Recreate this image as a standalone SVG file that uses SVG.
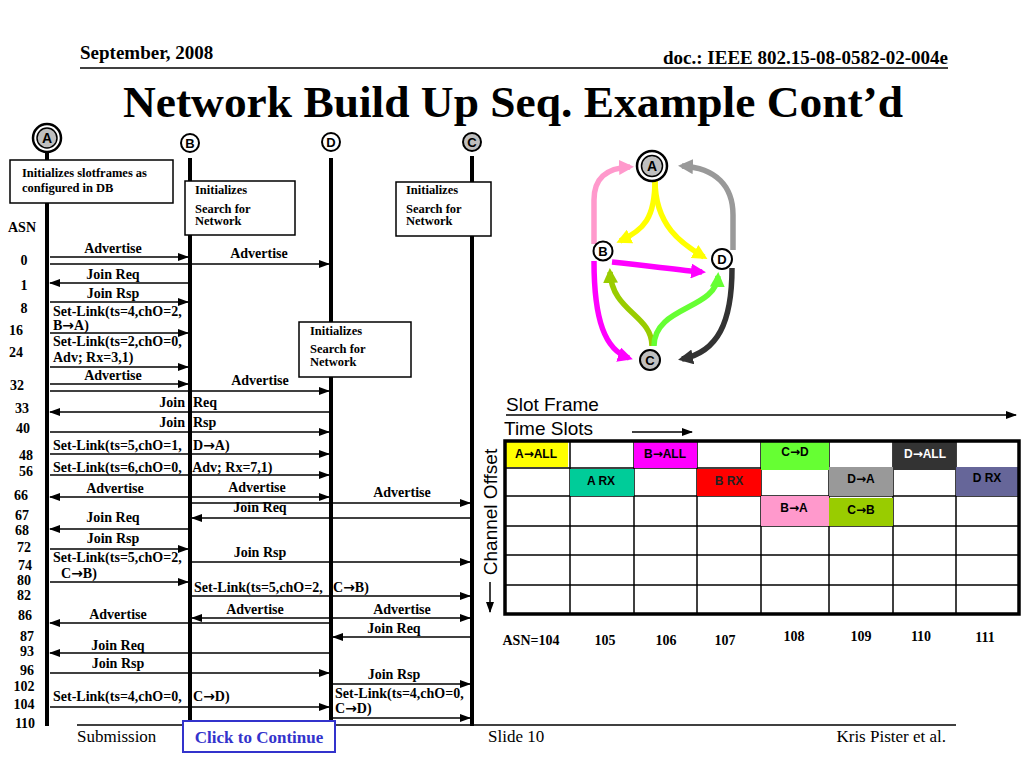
<svg xmlns="http://www.w3.org/2000/svg" width="1024" height="768" viewBox="0 0 1024 768">
<style>
.s{font-family:'Liberation Serif','Times New Roman',serif;font-weight:bold;fill:#000}
.r{font-family:'Liberation Serif','Times New Roman',serif;fill:#000}
.a{font-family:'Liberation Sans',Arial,sans-serif;fill:#000}
.ar{font-family:'DejaVu Sans',sans-serif;font-weight:bold}
.lb{font-size:14px}
.mid{text-anchor:middle}
.bx{font-size:12.5px}
.ll{stroke:#000;stroke-width:4}
.m{stroke:#000;stroke-width:1.5;fill:none;marker-end:url(#ah)}
.b2{marker-start:url(#ahs)}
.box{fill:#fff;stroke:#000;stroke-width:1.5}
.g{fill:none;stroke-width:5.5}
.cell{font-family:'Liberation Sans',Arial,sans-serif;font-weight:bold;font-size:12px;text-anchor:middle}
.grid{stroke:#000;stroke-width:1.5}
.nl{font-family:'Liberation Sans',Arial,sans-serif;font-weight:bold;text-anchor:middle;fill:#000}
</style>
<defs>
<marker id="ah" markerUnits="userSpaceOnUse" markerWidth="11" markerHeight="8" refX="10" refY="4" orient="auto"><path d="M0,0 L11,4 L0,8 z" fill="#000"/></marker>
<marker id="ahs" markerUnits="userSpaceOnUse" markerWidth="11" markerHeight="8" refX="10" refY="4" orient="auto-start-reverse"><path d="M0,0 L11,4 L0,8 z" fill="#000"/></marker>
<marker id="mpink" markerUnits="userSpaceOnUse" markerWidth="15" markerHeight="15" refX="11" refY="7.5" orient="auto"><path d="M0,0 L15,7.5 L0,15 z" fill="#FF99CC"/></marker>
<marker id="mgray" markerUnits="userSpaceOnUse" markerWidth="15" markerHeight="15" refX="11" refY="7.5" orient="auto"><path d="M0,0 L15,7.5 L0,15 z" fill="#999999"/></marker>
<marker id="myel" markerUnits="userSpaceOnUse" markerWidth="15" markerHeight="15" refX="11" refY="7.5" orient="auto"><path d="M0,0 L15,7.5 L0,15 z" fill="#FFFF00"/></marker>
<marker id="mmag" markerUnits="userSpaceOnUse" markerWidth="15" markerHeight="15" refX="11" refY="7.5" orient="auto"><path d="M0,0 L15,7.5 L0,15 z" fill="#FF00FF"/></marker>
<marker id="moli" markerUnits="userSpaceOnUse" markerWidth="15" markerHeight="15" refX="11" refY="7.5" orient="auto"><path d="M0,0 L15,7.5 L0,15 z" fill="#99CC00"/></marker>
<marker id="mgrn" markerUnits="userSpaceOnUse" markerWidth="15" markerHeight="15" refX="11" refY="7.5" orient="auto"><path d="M0,0 L15,7.5 L0,15 z" fill="#66FF33"/></marker>
<marker id="mdrk" markerUnits="userSpaceOnUse" markerWidth="15" markerHeight="15" refX="11" refY="7.5" orient="auto"><path d="M0,0 L15,7.5 L0,15 z" fill="#333333"/></marker>
<marker id="ahb" markerUnits="userSpaceOnUse" markerWidth="11" markerHeight="8" refX="10" refY="4" orient="auto"><path d="M0,0 L11,4 L0,8 z" fill="#000"/></marker>
</defs>
<rect width="1024" height="768" fill="#fff"/>

<g id="header">
<text class="s" x="80" y="59" font-size="19">September, 2008</text>
<text class="s" x="948" y="64" font-size="19" text-anchor="end">doc.: IEEE 802.15-08-0582-02-004e</text>
<line x1="80" y1="68" x2="948" y2="68" stroke="#000" stroke-width="1.5"/>
<text class="s mid" x="513" y="117" font-size="45" textLength="780" lengthAdjust="spacingAndGlyphs">Network Build Up Seq. Example Cont’d</text>
</g>

<g id="lifelines">
<line class="ll" x1="47" y1="152" x2="47" y2="726"/>
<line class="ll" x1="190" y1="158" x2="190" y2="726"/>
<line class="ll" x1="331" y1="158" x2="331" y2="726"/>
<line class="ll" x1="472" y1="156" x2="472" y2="726"/>
</g>

<g id="node-A">
<circle cx="47" cy="138" r="14" fill="#fff" stroke="#000" stroke-width="2.5"/>
<circle cx="47" cy="138" r="10" fill="#BFBFBF" stroke="#000" stroke-width="1.5"/>
<text class="nl" x="47" y="143" font-size="14">A</text>
</g>
<g id="node-B">
<circle cx="190" cy="143" r="9" fill="#fff" stroke="#000" stroke-width="2"/>
<text class="nl" x="190" y="148" font-size="13">B</text>
</g>
<g id="node-D">
<circle cx="331" cy="142" r="9" fill="#fff" stroke="#000" stroke-width="2"/>
<text class="nl" x="331" y="147" font-size="13">D</text>
</g>
<g id="node-C">
<circle cx="472" cy="142" r="9" fill="#BFBFBF" stroke="#000" stroke-width="2"/>
<text class="nl" x="472" y="147" font-size="13">C</text>
</g>

<g id="box-A">
<rect class="box" x="10" y="160" width="163" height="43"/>
<text class="s bx" x="22" y="177">Initializes slotframes as</text>
<text class="s bx" x="22" y="192">configured in DB</text>
</g>
<g id="box-B">
<rect class="box" x="185" y="181" width="110" height="54"/>
<text class="s bx" x="195" y="194">Initializes</text>
<text class="s bx" x="195" y="213">Search for</text>
<text class="s bx" x="195" y="225">Network</text>
</g>
<g id="box-C">
<rect class="box" x="396" y="182" width="95" height="54"/>
<text class="s bx" x="406" y="194">Initializes</text>
<text class="s bx" x="406" y="213">Search for</text>
<text class="s bx" x="406" y="225">Network</text>
</g>
<g id="box-D">
<rect class="box" x="299" y="322" width="112" height="55"/>
<text class="s bx" x="310" y="335">Initializes</text>
<text class="s bx" x="310" y="353">Search for</text>
<text class="s bx" x="310" y="366">Network</text>
</g>

<g id="asn" class="s lb mid">
<text x="22" y="232">ASN</text>
<text x="24" y="265">0</text>
<text x="24" y="290">1</text>
<text x="24" y="313">8</text>
<text x="16" y="335">16</text>
<text x="16" y="357">24</text>
<text x="17" y="390">32</text>
<text x="22" y="413">33</text>
<text x="23" y="433">40</text>
<text x="26" y="460">48</text>
<text x="26" y="476">56</text>
<text x="21" y="500">66</text>
<text x="22" y="520">67</text>
<text x="22" y="535">68</text>
<text x="24" y="552">72</text>
<text x="25" y="570">74</text>
<text x="24" y="585">80</text>
<text x="24" y="600">82</text>
<text x="25" y="620">86</text>
<text x="27" y="641">87</text>
<text x="27" y="656">93</text>
<text x="27" y="675">96</text>
<text x="24" y="691">102</text>
<text x="24" y="709">104</text>
<text x="25" y="728">110</text>
</g>

<g id="connectors">
<line class="m" x1="50" y1="257" x2="188" y2="257"/>
<line class="m" x1="50" y1="264" x2="329" y2="264"/>
<line class="m" x1="188" y1="283" x2="50" y2="283"/>
<line class="m" x1="50" y1="302" x2="188" y2="302"/>
<line class="m" x1="50" y1="333" x2="188" y2="333"/>
<line class="m" x1="50" y1="367" x2="188" y2="367"/>
<line class="m" x1="50" y1="384" x2="188" y2="384"/>
<line class="m" x1="50" y1="391" x2="329" y2="391"/>
<line class="m" x1="329" y1="412" x2="50" y2="412"/>
<line class="m" x1="50" y1="432" x2="329" y2="432"/>
<line class="m" x1="50" y1="454" x2="329" y2="454"/>
<line class="m" x1="50" y1="475" x2="329" y2="475"/>
<line class="m b2" x1="50" y1="497" x2="329" y2="497"/>
<line class="m" x1="192" y1="503" x2="470" y2="503"/>
<line class="m" x1="470" y1="518" x2="192" y2="518"/>
<line class="m" x1="188" y1="529" x2="50" y2="529"/>
<line class="m" x1="50" y1="549" x2="188" y2="549"/>
<line class="m" x1="192" y1="562" x2="470" y2="562"/>
<line class="m" x1="50" y1="582" x2="188" y2="582"/>
<line class="m" x1="192" y1="596" x2="470" y2="596"/>
<line class="m b2" x1="192" y1="618" x2="470" y2="618"/>
<line class="m" x1="329" y1="623" x2="50" y2="623"/>
<line class="m" x1="470" y1="637" x2="333" y2="637"/>
<line class="m" x1="329" y1="653" x2="50" y2="653"/>
<line class="m" x1="50" y1="673" x2="329" y2="673"/>
<line class="m" x1="333" y1="684" x2="470" y2="684"/>
<line class="m" x1="50" y1="707" x2="329" y2="707"/>
<line class="m" x1="333" y1="718" x2="470" y2="718"/>
</g>

<g id="labels" class="s lb">
<text class="mid" x="113" y="253">Advertise</text>
<text class="mid" x="259" y="258">Advertise</text>
<text class="mid" x="113" y="279">Join Req</text>
<text class="mid" x="113" y="298">Join Rsp</text>
<text x="53" y="316">Set-Link(ts=4,chO=2,</text>
<text x="53" y="330">B<tspan class="ar">→</tspan>A)</text>
<text x="53" y="346">Set-Link(ts=2,chO=0,</text>
<text x="53" y="362">Adv; Rx=3,1)</text>
<text class="mid" x="113" y="380">Advertise</text>
<text class="mid" x="260" y="385">Advertise</text>
<text y="407"><tspan x="185" text-anchor="end">Join</tspan><tspan x="189.5"> Req</tspan></text>
<text y="427"><tspan x="185" text-anchor="end">Join</tspan><tspan x="189.5"> Rsp</tspan></text>
<text y="450"><tspan x="53">Set-Link(ts=5,chO=1,</tspan><tspan x="189.5"> D</tspan><tspan class="ar">→</tspan><tspan>A)</tspan></text>
<text y="472"><tspan x="53">Set-Link(ts=6,chO=0,</tspan><tspan x="189.5"> Adv; Rx=7,1)</tspan></text>
<text class="mid" x="115" y="493">Advertise</text>
<text class="mid" x="257" y="492">Advertise</text>
<text class="mid" x="402" y="497">Advertise</text>
<text class="mid" x="260" y="512">Join Req</text>
<text class="mid" x="113" y="522">Join Req</text>
<text class="mid" x="113" y="543">Join Rsp</text>
<text class="mid" x="260" y="557">Join Rsp</text>
<text x="53" y="562">Set-Link(ts=5,chO=2,</text>
<text x="61" y="578">C<tspan class="ar">→</tspan>B)</text>
<text y="592"><tspan x="194">Set-Link(ts=5,chO=2,</tspan><tspan x="329.5"> C</tspan><tspan class="ar">→</tspan><tspan>B)</tspan></text>
<text class="mid" x="118" y="619">Advertise</text>
<text class="mid" x="255" y="614">Advertise</text>
<text class="mid" x="402" y="614">Advertise</text>
<text class="mid" x="394" y="633">Join Req</text>
<text class="mid" x="118" y="650">Join Req</text>
<text class="mid" x="118" y="668">Join Rsp</text>
<text class="mid" x="394" y="679">Join Rsp</text>
<text y="701"><tspan x="53">Set-Link(ts=4,chO=0,</tspan><tspan x="189.5"> C</tspan><tspan class="ar">→</tspan><tspan>D)</tspan></text>
<text x="335" y="698">Set-Link(ts=4,chO=0,</text>
<text x="335" y="713">C<tspan class="ar">→</tspan>D)</text>
</g>

<g id="graph-connectors">
<path class="g" stroke="#FF99CC" marker-end="url(#mpink)" d="M594,244 L594,200 C594,178 606,168 630,167"/>
<path class="g" stroke="#999999" marker-end="url(#mgray)" d="M733,250 L733,215 C733,186 716,168 682,166"/>
<path class="g" stroke="#FFFF00" marker-end="url(#myel)" d="M655,180 C655,218 644,230 620,241"/>
<path class="g" stroke="#FFFF00" marker-end="url(#myel)" d="M655,180 C655,226 682,244 704,257"/>
<path class="g" stroke="#FF00FF" marker-end="url(#mmag)" d="M612,262 C650,266 680,270 702,272"/>
<path class="g" stroke="#FF00FF" marker-end="url(#mmag)" d="M594,261 C594,320 605,350 629,358"/>
<path class="g" stroke="#99CC00" marker-end="url(#moli)" d="M652,346 C652,315 612,312 610,272"/>
<path class="g" stroke="#66FF33" marker-end="url(#mgrn)" d="M654,346 C654,306 716,310 718,276"/>
<path class="g" stroke="#333333" marker-end="url(#mdrk)" d="M732,268 C732,322 718,352 682,359"/>
</g>
<g id="gnode-A">
<circle cx="652" cy="166" r="15" fill="#fff" stroke="#000" stroke-width="2.5"/>
<circle cx="652" cy="166" r="10.5" fill="#BFBFBF" stroke="#000" stroke-width="1.5"/>
<text class="nl" x="652" y="171" font-size="14">A</text>
</g>
<g id="gnode-B">
<circle cx="603" cy="251" r="9.5" fill="#fff" stroke="#000" stroke-width="2"/>
<text class="nl" x="603" y="256" font-size="13">B</text>
</g>
<g id="gnode-D">
<circle cx="722" cy="259" r="10" fill="#fff" stroke="#000" stroke-width="2"/>
<text class="nl" x="722" y="264" font-size="13">D</text>
</g>
<g id="gnode-C">
<circle cx="650" cy="360" r="10" fill="#BFBFBF" stroke="#000" stroke-width="2"/>
<text class="nl" x="650" y="365" font-size="13">C</text>
</g>

<g id="slotframe">
<text class="a" x="506" y="411" font-size="19">Slot Frame</text>
<line x1="506" y1="415" x2="1016" y2="415" stroke="#000" stroke-width="1.5" marker-end="url(#ahb)"/>
<text class="a" x="504" y="435" font-size="19">Time Slots</text>
<line x1="632" y1="432" x2="692" y2="432" stroke="#000" stroke-width="1.5" marker-end="url(#ahb)"/>
<text class="a" font-size="19" text-anchor="middle" transform="translate(497,512) rotate(-90)">Channel Offset</text>
<line x1="490" y1="582" x2="490" y2="612" stroke="#000" stroke-width="1.5" marker-end="url(#ahb)"/>
<rect x="505" y="441" width="514" height="173" fill="#fff"/>
<g class="grid">
<line x1="570" y1="441" x2="570" y2="614"/>
<line x1="634" y1="441" x2="634" y2="614"/>
<line x1="697" y1="441" x2="697" y2="614"/>
<line x1="761" y1="441" x2="761" y2="614"/>
<line x1="829" y1="441" x2="829" y2="614"/>
<line x1="893" y1="441" x2="893" y2="614"/>
<line x1="956" y1="441" x2="956" y2="614"/>
<line x1="505" y1="468" x2="1019" y2="468"/>
<line x1="505" y1="496" x2="1019" y2="496"/>
<line x1="505" y1="526" x2="1019" y2="526"/>
<line x1="505" y1="555" x2="1019" y2="555"/>
<line x1="505" y1="585" x2="1019" y2="585"/>
</g>
<rect x="506" y="442" width="62" height="25" fill="#FFFF00"/>
<rect x="634" y="442" width="63" height="26" fill="#FF00FF"/>
<rect x="761" y="442" width="68" height="28" fill="#66FF33"/>
<rect x="893" y="442" width="63" height="28" fill="#333333"/>
<rect x="570" y="469" width="64" height="27" fill="#00CC99"/>
<rect x="697" y="469" width="64" height="27" fill="#FF0000"/>
<rect x="829" y="467" width="64" height="29" fill="#999999"/>
<rect x="956" y="467" width="63" height="29" fill="#666699"/>
<rect x="761" y="496" width="68" height="30" fill="#FF99CC"/>
<rect x="829" y="498" width="64" height="28" fill="#99CC00"/>
<text class="cell" x="536" y="458">A<tspan class="ar">→</tspan>ALL</text>
<text class="cell" x="665" y="458">B<tspan class="ar">→</tspan>ALL</text>
<text class="cell" x="795" y="456">C<tspan class="ar">→</tspan>D</text>
<text class="cell" x="925" y="458" fill="#fff">D<tspan class="ar">→</tspan>ALL</text>
<text class="cell" x="601" y="485">A RX</text>
<text class="cell" x="729" y="485" fill="#222">B RX</text>
<text class="cell" x="861" y="483">D<tspan class="ar">→</tspan>A</text>
<text class="cell" x="987" y="482">D RX</text>
<text class="cell" x="794" y="512">B<tspan class="ar">→</tspan>A</text>
<text class="cell" x="861" y="514">C<tspan class="ar">→</tspan>B</text>
<rect x="505" y="441" width="514" height="173" fill="none" stroke="#000" stroke-width="3.5"/>
<g class="s lb mid">
<text x="531" y="645">ASN=104</text>
<text x="605" y="645">105</text>
<text x="666" y="645">106</text>
<text x="725" y="645">107</text>
<text x="794" y="641">108</text>
<text x="861" y="641">109</text>
<text x="921" y="641">110</text>
<text x="985" y="642">111</text>
</g>
</g>

<g id="footer">
<line x1="77" y1="725" x2="956" y2="725" stroke="#000" stroke-width="1.5"/>
<text class="r" x="77" y="742" font-size="17">Submission</text>
<text class="r" x="488" y="742" font-size="17">Slide 10</text>
<text class="r" x="946" y="742" font-size="17" text-anchor="end">Kris Pister et al.</text>
</g>
<g id="click-to-continue">
<rect x="183" y="721" width="152" height="31" fill="#fff" stroke="#3333CC" stroke-width="2"/>
<text class="s mid" x="259" y="743" font-size="17" style="fill:#3333CC">Click to Continue</text>
</g>
</svg>
